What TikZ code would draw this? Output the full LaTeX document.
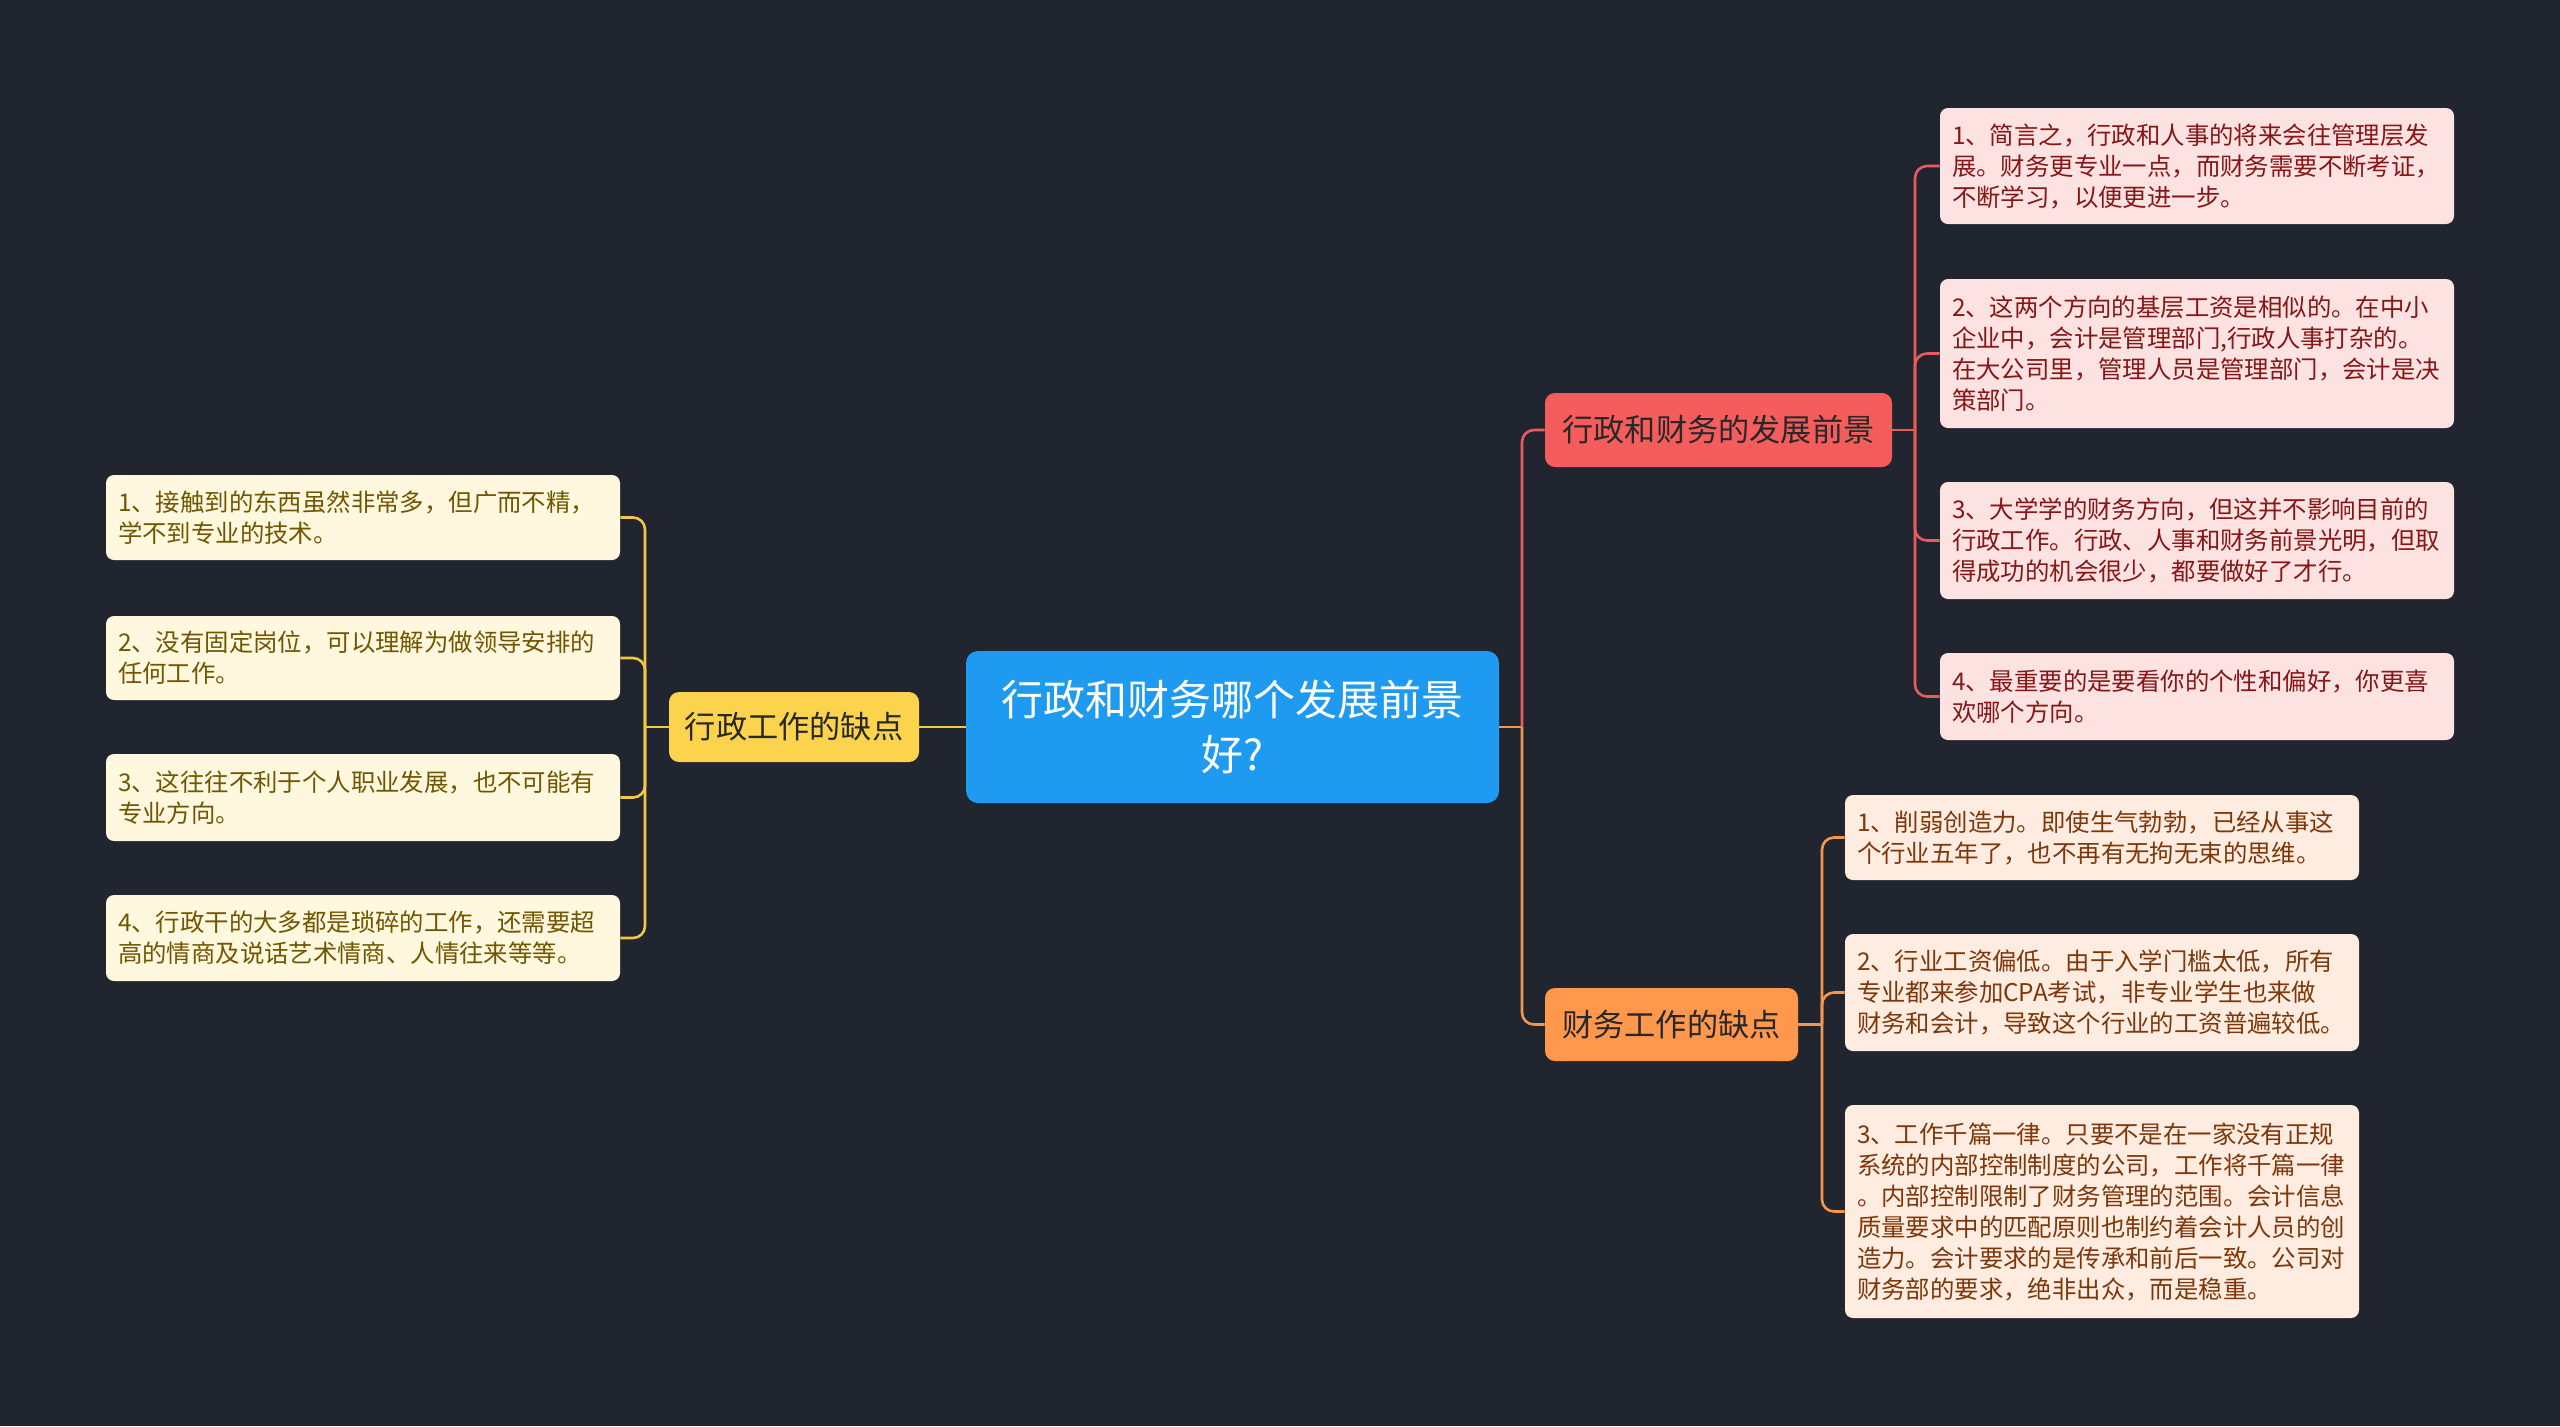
\documentclass[tikz,border=0pt]{standalone}
\usepackage{fontspec}
\setmainfont{Noto Sans CJK SC}
\definecolor{bgcol}{RGB}{33,37,48}
\definecolor{cblue}{RGB}{30,155,240}
\definecolor{cyel}{RGB}{252,211,77}
\definecolor{cred}{RGB}{245,93,93}
\definecolor{corg}{RGB}{255,151,77}
\definecolor{lyel}{RGB}{240,200,70}
\definecolor{lred}{RGB}{232,92,92}
\definecolor{lorg}{RGB}{242,150,82}
\definecolor{fyel}{RGB}{255,248,222}
\definecolor{fred}{RGB}{253,226,226}
\definecolor{forg}{RGB}{254,236,224}
\definecolor{tyel}{RGB}{112,86,0}
\definecolor{tred}{RGB}{135,22,22}
\definecolor{torg}{RGB}{125,55,10}
\definecolor{tbr}{RGB}{40,40,40}
\tikzset{
  leafbox/.style={rounded corners=4pt, align=left, inner xsep=6pt, inner ysep=0pt,
    text width=245pt, font=\fontsize{12.2}{15.5}\selectfont, anchor=center},
  leafY/.style={leafbox, fill=fyel, text=tyel},
  leafR/.style={leafbox, fill=fred, text=tred},
  leafO/.style={leafbox, fill=forg, text=torg},
  branchbox/.style={rounded corners=5pt, align=center, inner sep=0pt, text=tbr,
    font=\fontsize{15.6}{18}\selectfont, anchor=center},
  conn/.style={line width=1.3pt},
  connY/.style={conn, draw=lyel},
  connR/.style={conn, draw=lred},
  connO/.style={conn, draw=lorg},
}
\begin{document}
\begin{tikzpicture}[x=0.5pt,y=-0.5pt]
\useasboundingbox (0,0) rectangle (2560,1426);
\fill[bgcol] (0,0) rectangle (2560,1426);

% central
\node[rounded corners=6pt, fill=cblue, text=white, align=center, inner sep=0pt,
  minimum width=266.5pt, minimum height=76pt, font=\fontsize{21}{27.8}\selectfont]
  (C) at (1232.5,727) {行政和财务哪个发展前景\\好?};

% branches
\node[branchbox, fill=cyel, minimum width=125pt, minimum height=35pt] (LB) at (794,727) {行政工作的缺点};
\node[branchbox, fill=cred, minimum width=173.5pt, minimum height=37pt] (RB) at (1718.5,430) {行政和财务的发展前景};
\node[branchbox, fill=corg, minimum width=126.5pt, minimum height=36.5pt] (OB) at (1671.5,1024.5) {财务工作的缺点};

% left leaves
\node[leafY, minimum height=42.5pt] (L1) at (363,517.5) {1、接触到的东西虽然非常多，但广而不精，\\学不到专业的技术。};
\node[leafY, minimum height=42pt] (L2) at (363,658) {2、没有固定岗位，可以理解为做领导安排的\\任何工作。};
\node[leafY, minimum height=43.5pt] (L3) at (363,797.5) {3、这往往不利于个人职业发展，也不可能有\\专业方向。};
\node[leafY, minimum height=43pt] (L4) at (363,938) {4、行政干的大多都是琐碎的工作，还需要超\\高的情商及说话艺术情商、人情往来等等。};

% red leaves
\node[leafR, minimum height=58pt] (R1) at (2197,166) {1、简言之，行政和人事的将来会往管理层发\\展。财务更专业一点，而财务需要不断考证，\\不断学习，以便更进一步。};
\node[leafR, minimum height=74.5pt] (R2) at (2197,353.5) {2、这两个方向的基层工资是相似的。在中小\\企业中，会计是管理部门,行政人事打杂的。\\在大公司里，管理人员是管理部门，会计是决\\策部门。};
\node[leafR, minimum height=58.5pt] (R3) at (2197,540.5) {3、大学学的财务方向，但这并不影响目前的\\行政工作。行政、人事和财务前景光明，但取\\得成功的机会很少，都要做好了才行。};
\node[leafR, minimum height=43.5pt] (R4) at (2197,696.5) {4、最重要的是要看你的个性和偏好，你更喜\\欢哪个方向。};

% orange leaves
\node[leafO, minimum height=42.5pt] (O1) at (2102,837.5) {1、削弱创造力。即使生气勃勃，已经从事这\\个行业五年了，也不再有无拘无束的思维。};
\node[leafO, minimum height=58.5pt] (O2) at (2102,992.5) {2、行业工资偏低。由于入学门槛太低，所有\\专业都来参加CPA考试，非专业学生也来做\\财务和会计，导致这个行业的工资普遍较低。};
\node[leafO, minimum height=106.5pt] (O3) at (2102,1211.5) {3、工作千篇一律。只要不是在一家没有正规\\系统的内部控制制度的公司，工作将千篇一律\\。内部控制限制了财务管理的范围。会计信息\\质量要求中的匹配原则也制约着会计人员的创\\造力。会计要求的是传承和前后一致。公司对\\财务部的要求，绝非出众，而是稳重。};

% coordinates for trunks
\coordinate (tL) at (645,727);
\coordinate (tM) at (1522,727);
\coordinate (tR) at (1915,430);
\coordinate (tO) at (1822,1024.5);

% connectors
\draw[connY] (C.west) -- (LB.east);
\draw[connY] (LB.west) -- (tL);
\foreach \n in {L1,L2,L3,L4} \draw[connY, rounded corners=6pt] (tL) |- (\n.east);

\draw[connO] (C.east) -- (tM);
\draw[connR, rounded corners=6pt] (tM) |- (RB.west);
\draw[connO, rounded corners=6pt] (tM) |- (OB.west);

\draw[connR] (RB.east) -- (tR);
\foreach \n in {R1,R2,R3,R4} \draw[connR, rounded corners=6pt] (tR) |- (\n.west);

\draw[connO] (OB.east) -- (tO);
\foreach \n in {O1,O2,O3} \draw[connO, rounded corners=6pt] (tO) |- (\n.west);
\end{tikzpicture}
\end{document}
